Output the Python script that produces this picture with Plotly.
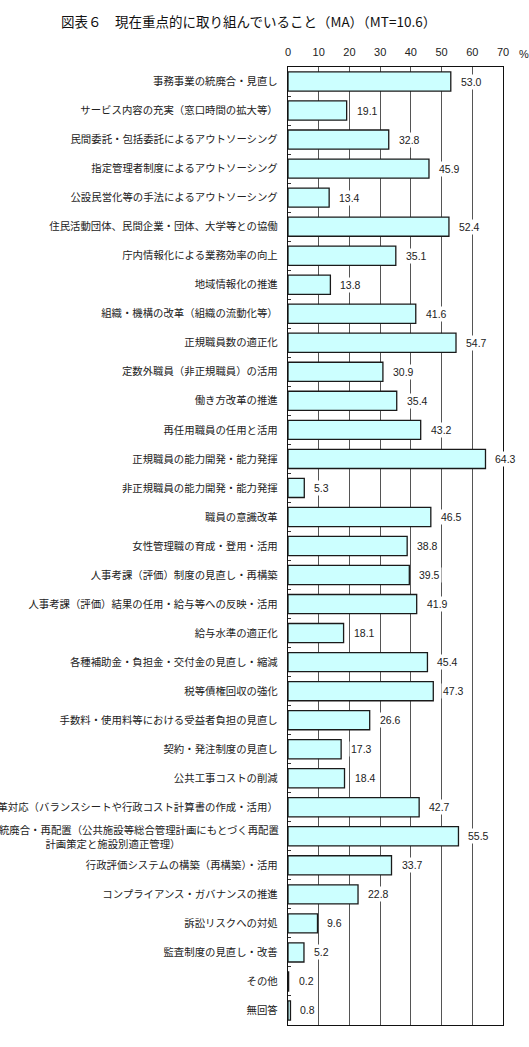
import plotly.graph_objects as go

categories = [
    "事務事業の統廃合・見直し",
    "サービス内容の充実（窓口時間の拡大等）",
    "民間委託・包括委託によるアウトソーシング",
    "指定管理者制度によるアウトソーシング",
    "公設民営化等の手法によるアウトソーシング",
    "住民活動団体、民間企業・団体、大学等との協働",
    "庁内情報化による業務効率の向上",
    "地域情報化の推進",
    "組織・機構の改革（組織の流動化等）",
    "正規職員数の適正化",
    "定数外職員（非正規職員）の活用",
    "働き方改革の推進",
    "再任用職員の任用と活用",
    "正規職員の能力開発・能力発揮",
    "非正規職員の能力開発・能力発揮",
    "職員の意識改革",
    "女性管理職の育成・登用・活用",
    "人事考課（評価）制度の見直し・再構築",
    "人事考課（評価）結果の任用・給与等への反映・活用",
    "給与水準の適正化",
    "各種補助金・負担金・交付金の見直し・縮減",
    "税等債権回収の強化",
    "手数料・使用料等における受益者負担の見直し",
    "契約・発注制度の見直し",
    "公共工事コストの削減",
    "公会計改革対応（バランスシートや行政コスト計算書の作成・活用）",
    "公共施設の統廃合・再配置（公共施設等総合管理計画にもとづく再配置<br>計画策定と施設別適正管理）",
    "行政評価システムの構築（再構築）・活用",
    "コンプライアンス・ガバナンスの推進",
    "訴訟リスクへの対処",
    "監査制度の見直し・改善",
    "その他",
    "無回答",
]

values = [53.0, 19.1, 32.8, 45.9, 13.4, 52.4, 35.1, 13.8, 41.6, 54.7, 30.9,
          35.4, 43.2, 64.3, 5.3, 46.5, 38.8, 39.5, 41.9, 18.1, 45.4, 47.3,
          26.6, 17.3, 18.4, 42.7, 55.5, 33.7, 22.8, 9.6, 5.2, 0.2, 0.8]

x_ticks = [0, 10, 20, 30, 40, 50, 60, 70]

title_text = "図表６　現在重点的に取り組んでいること（MA）（MT=10.6）"

ypos = list(range(len(categories)))
# multi-line labels drawn as centred annotations, others as tick labels
tick_text = ["" if "<br>" in c else c for c in categories]

FONT_JP = "Noto Sans CJK JP"
FONT_NUM = "Liberation Sans, Arial"

fig = go.Figure()
fig.add_trace(go.Bar(
    x=values,
    y=ypos,
    orientation="h",
    width=0.66,
    marker=dict(color="#ccffff", line=dict(color="#1a1a1a", width=1.3)),
    hoverinfo="skip",
))

annotations = []
for yi, (c, v) in enumerate(zip(categories, values)):
    annotations.append(dict(
        x=v, y=yi, xref="x", yref="y", text=f"{v:.1f}",
        showarrow=False, xanchor="left", xshift=8,
        font=dict(family=FONT_NUM, size=10.5, color="#222"),
        bgcolor="white", borderpad=1,
    ))
    if "<br>" in c:
        annotations.append(dict(
            x=0, y=yi, xref="paper", yref="y", text=c,
            showarrow=False, xanchor="right", align="center", xshift=-7,
            font=dict(family=FONT_JP, size=10.4, color="#222"),
        ))

annotations.append(dict(
    x=70, y=1, xref="x", yref="paper", text="%", showarrow=False,
    xanchor="left", yanchor="bottom", xshift=14, yshift=5,
    font=dict(family=FONT_NUM, size=11, color="#222"),
))

fig.update_layout(
    width=529, height=1047,
    margin=dict(l=288, r=26, t=67, b=22),
    paper_bgcolor="white", plot_bgcolor="white",
    showlegend=False,
    title=dict(text=title_text, x=0.47, xanchor="center", y=0.979, yanchor="middle",
               font=dict(family=FONT_JP, size=13.5, color="#111")),
    annotations=annotations,
    xaxis=dict(
        range=[0, 70], tickvals=x_ticks, side="top",
        showgrid=True, gridcolor="#555", gridwidth=1,
        showline=True, linecolor="#111", linewidth=1.3, mirror=True,
        ticks="", ticklabelstandoff=5, zeroline=False,
        tickfont=dict(family=FONT_NUM, size=11, color="#222"),
        fixedrange=True, automargin=False,
    ),
    yaxis=dict(
        range=[len(categories) - 0.5, -0.5],
        tickmode="array", tickvals=ypos, ticktext=tick_text,
        showgrid=False, zeroline=False,
        showline=True, linecolor="#111", linewidth=1.3, mirror=True,
        ticks="", ticklabelstandoff=7,
        tickfont=dict(family=FONT_JP, size=10.4, color="#222"),
        fixedrange=True, automargin=False,
        minor=dict(tickmode="array",
                   tickvals=[i + 0.5 for i in range(len(categories) - 1)],
                   ticks="inside", ticklen=3, tickcolor="#333",
                   showgrid=False),
    ),
)

fig.write_html("out.html")
